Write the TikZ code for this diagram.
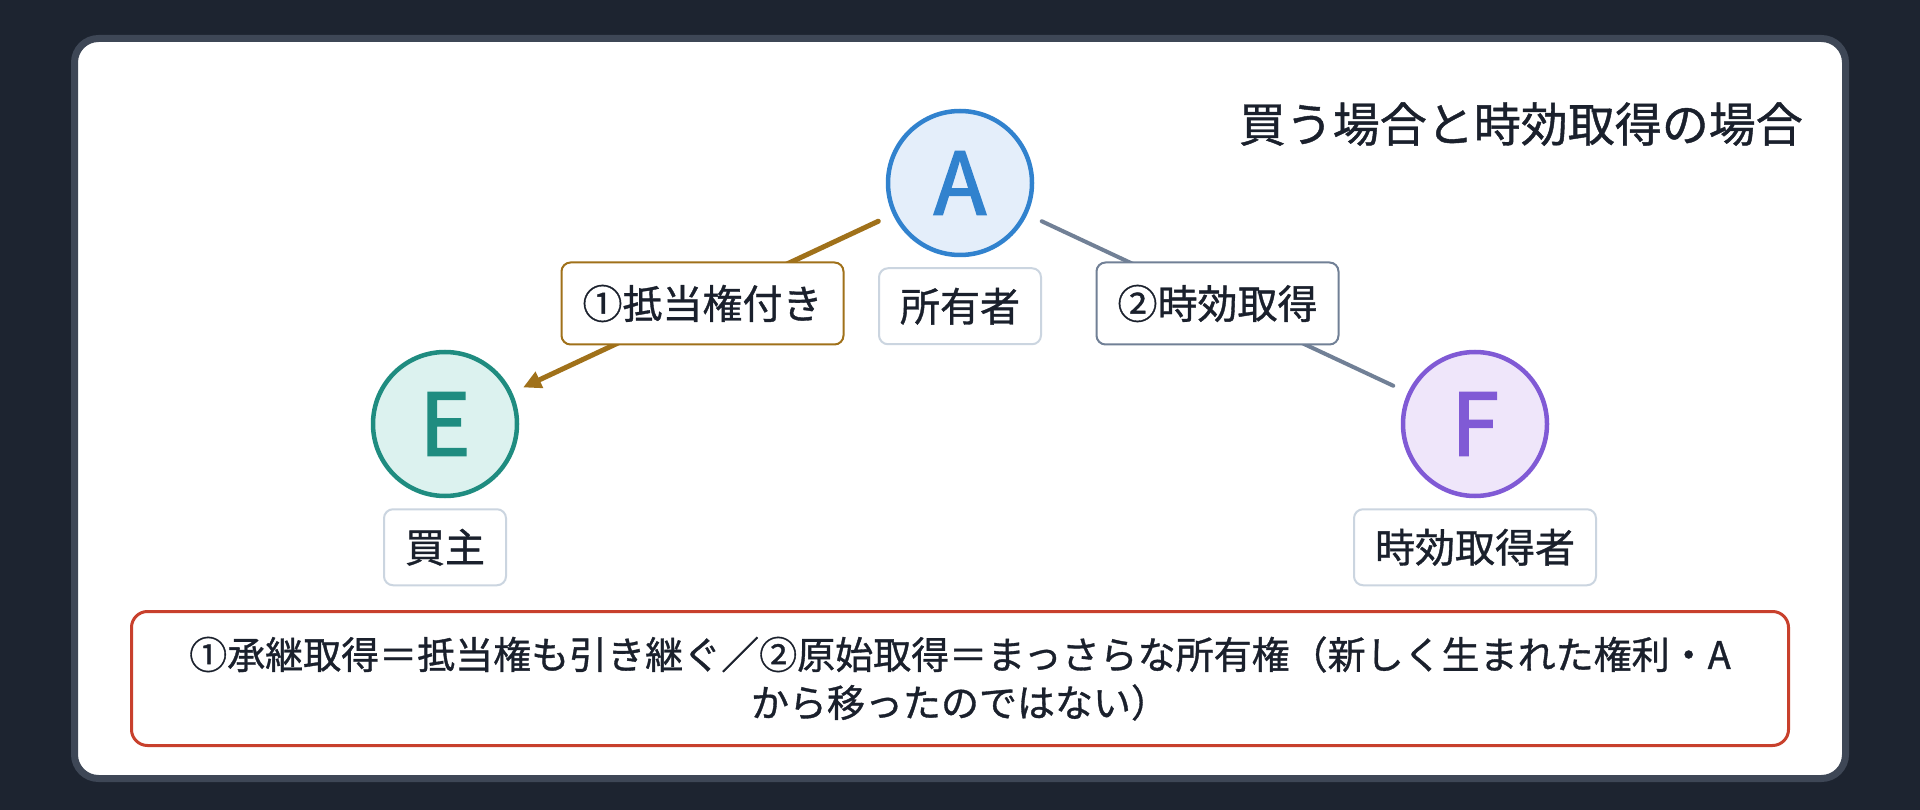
\documentclass[tikz,border=0pt]{standalone}
\usepackage{fontspec}
\setmainfont{Noto Sans CJK JP}[FakeBold=0.9]
\newfontfamily\letterfont{Noto Sans CJK JP}[FakeBold=2.2]
\usetikzlibrary{positioning,arrows.meta}
\definecolor{bgdark}{HTML}{1D2430}
\definecolor{cardedge}{HTML}{3E4756}
\definecolor{ink}{HTML}{1A202C}
\definecolor{ownerblue}{HTML}{3182CE}
\definecolor{ownerfill}{HTML}{E4EEFA}
\definecolor{buyerteal}{HTML}{1F8C80}
\definecolor{buyerfill}{HTML}{DCF2EF}
\definecolor{possviolet}{HTML}{805AD5}
\definecolor{possfill}{HTML}{EFE6FA}
\definecolor{mortbrown}{HTML}{A0711A}
\definecolor{slategray}{HTML}{718096}
\definecolor{tagedge}{HTML}{CBD5E0}
\definecolor{notered}{HTML}{C8402C}
\tikzset{
  party/.style={circle, minimum size=144pt, inner sep=0pt, line width=4.5pt, font=\letterfont\fontsize{86}{86}\selectfont},
  roletag/.style={draw=tagedge, line width=2pt, fill=white, rounded corners=9pt, minimum height=76pt, inner xsep=21pt, text=ink, font=\fontsize{40}{40}\selectfont},
  edgetag/.style={fill=white, line width=2pt, rounded corners=9pt, minimum height=82pt, inner xsep=21pt, text=ink, font=\fontsize{40}{40}\selectfont}
}
\begin{document}
\begin{tikzpicture}[x=1pt,y=-1pt]
\useasboundingbox (0,0) rectangle (1920,810);
\fill[bgdark] (0,0) rectangle (1920,810);
\draw[cardedge, line width=7pt, fill=white, rounded corners=24pt] (74.5,38.5) rectangle (1845.5,778.5);
\node[anchor=east, inner sep=0pt, text=ink, font=\fontsize{47}{47}\selectfont] (title) at (1803,124) {買う場合と時効取得の場合};
\node[party, draw=ownerblue, fill=ownerfill, text=ownerblue] (A) at (960,183) {A};
\node[party, draw=buyerteal, fill=buyerfill, text=buyerteal] (E) at (445,424) {E};
\node[party, draw=possviolet, fill=possfill, text=possviolet] (F) at (1475,424) {F};
\node[roletag, below=10pt of A] (owner) {所有者};
\node[roletag, below=10pt of E] (buyer) {買主};
\node[roletag, below=10pt of F] (possessor) {時効取得者};
\draw[mortbrown, line width=5pt, line cap=round, -{Triangle[length=18pt,width=17pt]}, shorten <=16pt, shorten >=12pt] (A) -- (E) node[edgetag, draw=mortbrown, midway] (mortgage) {①抵当権付き};
\draw[slategray, line width=4pt, line cap=round, shorten <=16pt, shorten >=16pt] (A) -- (F) node[edgetag, draw=slategray, midway] (prescription) {②時効取得};
\node[draw=notered, line width=3pt, fill=white, rounded corners=16pt, minimum width=1657pt, minimum height=134pt, align=center, text=ink, font=\fontsize{38}{48}\selectfont] (note) at (960,678.5) {①承継取得＝抵当権も引き継ぐ／②原始取得＝まっさらな所有権（新しく生まれた権利・A\\から移ったのではない）};
\end{tikzpicture}
\end{document}
